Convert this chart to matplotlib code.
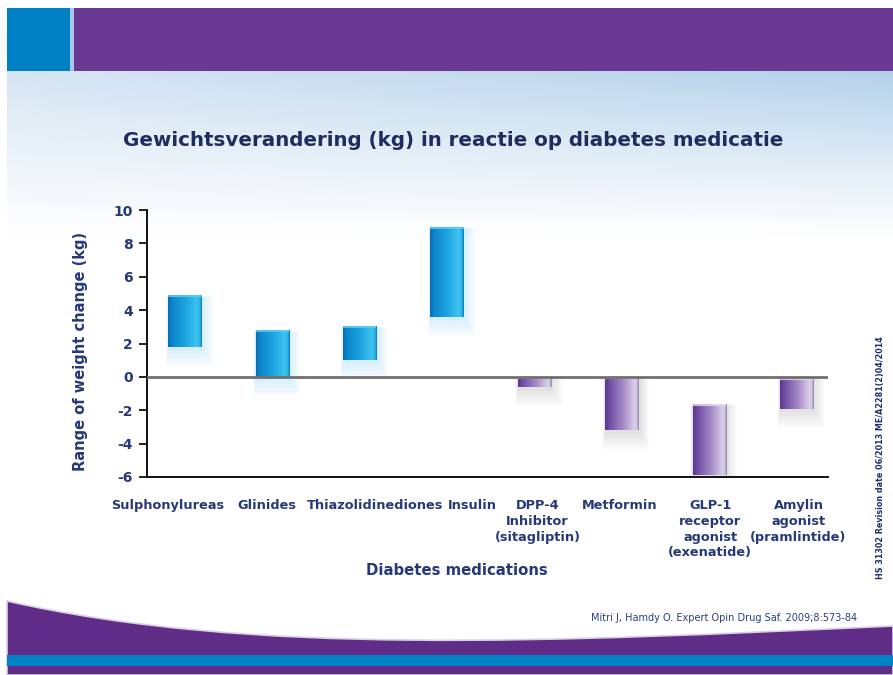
import numpy as np
import matplotlib
matplotlib.use("Agg")
import matplotlib.pyplot as plt
import matplotlib.transforms as mtransforms
from matplotlib.patches import Rectangle, PathPatch
from matplotlib.path import Path
from matplotlib.colors import to_rgb

# --- Data ---
medications = ["Sulphonylureas", "Glinides", "Thiazolidinediones", "Insulin",
               "DPP-4\nInhibitor\n(sitagliptin)", "Metformin",
               "GLP-1\nreceptor\nagonist\n(exenatide)",
               "Amylin\nagonist\n(pramlintide)"]
change_low = [1.8, 0.0, 1.0, 3.6, -0.6, -3.2, -5.9, -1.9]
change_high = [4.9, 2.8, 3.05, 9.0, 0.0, 0.0, -1.6, -0.05]
y_ticks = [-6, -4, -2, 0, 2, 4, 6, 8, 10]

TITLE = "Gewichtsverandering (kg) in reactie op diabetes medicatie"
CITATION = "Mitri J, Hamdy O. Expert Opin Drug Saf. 2009;8:573-84"
SIDE_NOTE = "HS 31302 Revision date 06/2013 ME/A2281(2)04/2014"

TEXT_BLUE = "#25397a"
PURPLE = "#6a3994"
BLUE = "#0080c5"

# the slide's category labels sit a little off the bar centres (pixels)
label_nudge = [-17, -5, 15, 25, 3, -2, 1, 2]


def gradient(stops, n=64):
    """Horizontal colour ramp (1 x n x 3) from (position, colour) stops."""
    pos = [p for p, _ in stops]
    cols = np.array([to_rgb(c) for _, c in stops])
    t = np.linspace(0, 1, n)
    ramp = np.stack([np.interp(t, pos, cols[:, k]) for k in range(3)], axis=-1)
    return ramp[np.newaxis, :, :]


blue_ramp = gradient([(0, "#0a6db4"), (0.12, "#0d86cc"), (0.5, "#1aa3df"),
                      (0.85, "#3fc3ef"), (0.95, "#2eb2e6"), (1, "#0a78bd")])
purple_ramp = gradient([(0, "#5d3690"), (0.15, "#7450a6"), (0.55, "#a88cc8"),
                        (0.88, "#dacfe8"), (0.96, "#c9bcdc"), (1, "#8d80a0")])

fig = plt.figure(figsize=(8.93, 6.75), dpi=100)

# --- slide background (pixel coordinates) ---
bg = fig.add_axes([0, 0, 1, 1], zorder=-5)
bg.set_xlim(0, 893)
bg.set_ylim(675, 0)
bg.axis("off")

h, w = 80, 200
ty = np.linspace(0, 1, h)[:, None, None]
tx = np.linspace(0, 1, w)[None, :, None]
left_c = np.array(to_rgb("#d6e5f3"))
right_c = np.array(to_rgb("#b4d1ea"))
base = left_c + (right_c - left_c) * tx
strength = (1 - ty) ** 1.1
sky = 1 - (1 - base) * strength
bg.imshow(sky, extent=[7, 893, 240, 71], aspect="auto", interpolation="bilinear")

bg.add_patch(Rectangle((7, 7.5), 63, 63.5, color=BLUE, lw=0))
bg.add_patch(Rectangle((70, 7.5), 3.5, 63.5, color="#a9c9e6", lw=0))
bg.add_patch(Rectangle((73.5, 7.5), 820, 63.5, color=PURPLE, lw=0))

wave = Path([(7, 601), (250, 656), (550, 642), (893, 626),
             (893, 675), (7, 675), (7, 601)],
            [Path.MOVETO, Path.CURVE4, Path.CURVE4, Path.CURVE4,
             Path.LINETO, Path.LINETO, Path.CLOSEPOLY])
bg.add_patch(PathPatch(wave, facecolor="#5f2c88", edgecolor="#d9cfe6", lw=1.2))
bg.add_patch(Rectangle((7, 655), 886, 11, color=BLUE, lw=0))

# --- chart ---
ax = fig.add_axes([147 / 893, 1 - 477 / 675, (828 - 147) / 893, (477 - 210) / 675])
ax.patch.set_alpha(0)

x = np.arange(len(medications))
low = np.array(change_low)
high = np.array(change_high)
bar_w = 0.38

# soft glow around each bar
for i in range(len(x)):
    glow = "#5fbdec" if high[i] > 0 else "#8a8a8a"
    for k in range(1, 6):
        ax.bar(x[i] + 0.01 * k, high[i] - low[i] + 0.2 * k, bottom=low[i] - 0.22 * k,
               width=bar_w + 0.03 * k, color=glow, alpha=0.05, lw=0, zorder=1)

bars = ax.bar(x, high - low, bottom=low, width=bar_w, color="none",
              edgecolor="none", zorder=2)
for i, patch in enumerate(bars.patches):
    ramp = blue_ramp if high[i] > 0 else purple_ramp
    x0, y0 = patch.get_x(), patch.get_y()
    im = ax.imshow(ramp, extent=[x0, x0 + patch.get_width(), y0, y0 + patch.get_height()],
                   aspect="auto", interpolation="bilinear", zorder=2)
    im.set_clip_path(patch)
    cap = "#5ed0f5" if high[i] > 0 else "#e6def0"
    ax.plot([x0, x0 + patch.get_width()], [high[i] - 0.08, high[i] - 0.08],
            color=cap, lw=1.5, alpha=0.8, zorder=3, solid_capstyle="butt")

ax.axhline(0, color="#6f6f6f", lw=2, zorder=4)

ax.set_xlim(-0.435, 7.36)
ax.set_ylim(-6, 10)
ax.set_yticks(y_ticks)
ax.set_yticklabels([str(v) for v in y_ticks])
ax.set_xticks(x)

for side in ("top", "right"):
    ax.spines[side].set_visible(False)
for side in ("left", "bottom"):
    ax.spines[side].set_linewidth(1.4)
    ax.spines[side].set_color("#111111")

ax.tick_params(axis="y", length=6, width=1.3, pad=4, labelsize=10,
               labelcolor=TEXT_BLUE, color="#111111")
for lbl in ax.get_yticklabels():
    lbl.set_fontweight("bold")
ax.tick_params(axis="x", length=0, pad=16)

# labels set after tick_params so the nudges are not reset
ax.set_xticklabels(medications, fontsize=9.3, fontweight="bold", color=TEXT_BLUE,
                   linespacing=1.27, va="top")
for lbl, dx in zip(ax.get_xticklabels(), label_nudge):
    lbl.set_transform(lbl.get_transform() +
                      mtransforms.ScaledTranslation(dx / 100, 0, fig.dpi_scale_trans))

ax.set_ylabel("Range of weight change (kg)", fontsize=10.5, fontweight="bold",
              color=TEXT_BLUE)
ax.yaxis.set_label_coords(-0.087, 0.47)
ax.set_xlabel("Diabetes medications", fontsize=10.7, fontweight="bold", color=TEXT_BLUE)
ax.xaxis.set_label_coords(0.455, -0.322)

fig.text(453 / 893, 1 - 140 / 675, TITLE, ha="center", va="center",
         fontsize=14.3, fontweight="bold", color="#1e2c5e")
fig.text(724 / 893, 1 - 618 / 675, CITATION, ha="center", va="center",
         fontsize=7, color="#2a3f80")
fig.text(880 / 893, 1 - 458 / 675, SIDE_NOTE, ha="center", va="center",
         rotation=90, fontsize=5.8, fontweight="bold", color="#1f2f70")

fig.savefig("out.png", dpi=100)
